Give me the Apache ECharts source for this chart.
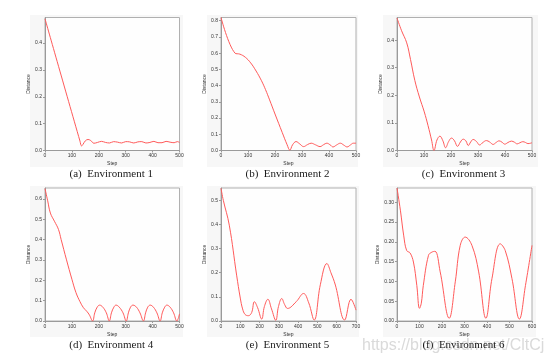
<!DOCTYPE html>
<html><head><meta charset="utf-8">
<script src="https://cdn.jsdelivr.net/npm/echarts@6/dist/echarts.min.js"></script>
<style>html,body{margin:0;padding:0;background:#fff}#c{width:554px;height:362px}</style>
</head><body><div id="c"></div><script>
// ---- data ----
const captions = ['(a)  Environment 1','(b)  Environment 2','(c)  Environment 3','(d)  Environment 4','(e)  Environment 5','(f)  Environment 6'];
const xTitle = 'Step';
const yTitle = 'Distance';
const watermark = 'https://blog.csdn.net/CltCj';
const xMax = [500, 500, 500, 500, 700, 600];
const yMax = [0.495, 0.82, 0.482, 0.653, 0.551, 0.336];
const yStep = [0.1, 0.1, 0.1, 0.1, 0.1, 0.05];
const yDecimals = [1, 1, 1, 1, 1, 2];

const env1 = [[0,0.49],[130,0.035],[136,0.017],[142,0.024],[150,0.036],[160,0.041],[170,0.037],[182,0.027],[195,0.030],[210,0.034],[225,0.030],[240,0.028],[255,0.033],[270,0.031],[285,0.028],[300,0.033],[315,0.032],[330,0.028],[345,0.032],[360,0.033],[375,0.028],[390,0.030],[405,0.034],[420,0.029],[435,0.029],[450,0.034],[465,0.031],[480,0.029],[492,0.033],[500,0.030]];
const env2 = [[0,0.82],[52,0.60],[70,0.594],[90,0.575],[110,0.54],[130,0.49],[150,0.43],[165,0.375],[180,0.312],[200,0.225],[227,0.11],[245,0.035],[255,0.002],[265,0.035],[278,0.055],[292,0.04],[306,0.024],[320,0.036],[334,0.045],[350,0.035],[367,0.024],[380,0.036],[392,0.045],[404,0.035],[415,0.022],[428,0.034],[442,0.045],[455,0.033],[467,0.022],[480,0.035],[490,0.045],[500,0.045]];
const env3 = [[0,0.48],[17,0.434],[36,0.39],[50,0.33],[66,0.254],[83,0.194],[101,0.14],[115,0.09],[128,0.038],[137,0.0],[148,0.038],[159,0.052],[170,0.035],[180,0.01],[191,0.032],[202,0.045],[213,0.035],[224,0.015],[235,0.031],[245,0.041],[255,0.035],[264,0.018],[273,0.031],[282,0.04],[294,0.033],[306,0.02],[318,0.029],[331,0.036],[343,0.031],[356,0.022],[367,0.029],[378,0.035],[389,0.03],[399,0.023],[411,0.029],[424,0.034],[435,0.03],[445,0.024],[455,0.028],[466,0.032],[476,0.029],[485,0.025],[500,0.028]];
const env4 = [[0,0.65],[10,0.59],[20,0.53],[35,0.49],[50,0.45],[60,0.40],[80,0.30],[100,0.205],[115,0.14],[130,0.095],[143,0.065],[155,0.048],[165,0.03],[177,0.0],[185,0.04],[194,0.068],[203,0.078],[215,0.068],[228,0.04],[239,0.0],[247,0.04],[256,0.068],[264,0.078],[276,0.068],[290,0.04],[302,0.0],[310,0.04],[318,0.068],[327,0.078],[340,0.068],[353,0.04],[366,0.0],[374,0.04],[382,0.068],[391,0.078],[403,0.068],[416,0.04],[428,0.0],[436,0.04],[445,0.068],[453,0.078],[465,0.068],[478,0.04],[490,0.0],[500,0.035]];
const env5 = [[0,0.55],[12,0.5],[43,0.397],[81,0.19],[100,0.095],[112,0.05],[125,0.027],[142,0.022],[159,0.035],[173,0.08],[190,0.055],[211,0.008],[225,0.06],[243,0.09],[262,0.05],[284,0.003],[298,0.06],[315,0.093],[330,0.068],[345,0.052],[390,0.08],[428,0.114],[455,0.075],[483,0.004],[515,0.15],[549,0.238],[570,0.2],[593,0.149],[641,0.004],[674,0.09],[700,0.045]];
const env6 = [[0,0.336],[15,0.28],[30,0.215],[43,0.178],[58,0.172],[73,0.149],[88,0.09],[100,0.032],[108,0.045],[117,0.09],[140,0.166],[155,0.174],[169,0.176],[192,0.124],[232,0.007],[259,0.099],[281,0.191],[303,0.212],[333,0.191],[363,0.124],[395,0.007],[422,0.107],[459,0.195],[481,0.178],[511,0.107],[544,0.005],[571,0.09],[600,0.191]];
const seriesData = [env1, env2, env3, env4, env5, env6];

// ---- layout ----
const grids = [
  {left:45, top:17.5, width:134.5, height:133},
  {left:221, top:17.5, width:135, height:133},
  {left:397, top:17.5, width:135, height:133},
  {left:45, top:188, width:134.5, height:133},
  {left:221, top:188, width:135, height:133},
  {left:397, top:188, width:135, height:133}
];
const panels = [
  {x:30, y:15, w:153, h:152}, {x:207, y:15, w:151, h:152}, {x:383, y:15, w:155, h:152},
  {x:30, y:186, w:153, h:151}, {x:207, y:186, w:152, h:151}, {x:383, y:186, w:153, h:151}
];
const capY = [174, 174, 174, 345, 345, 345];
const labelFont = {fontSize:5, color:'#333', fontFamily:'"Liberation Sans", Arial, sans-serif'};
const axisGray = '#9a9a9a';

const option = {
  animation:false,
  backgroundColor:'#ffffff',
  grid: grids.map(g => Object.assign({show:true, backgroundColor:'#fefefe', borderColor:'#b0b0b0', borderWidth:1}, g)),
  xAxis: grids.map((g,i) => ({
    type:'value', gridIndex:i, min:0, max:xMax[i], interval:100,
    name:xTitle, nameLocation:'middle', nameGap:11,
    nameTextStyle:Object.assign({}, labelFont),
    axisLine:{show:true, onZero:false, lineStyle:{color:axisGray, width:1}},
    axisTick:{show:true, length:2, lineStyle:{color:axisGray}},
    axisLabel:Object.assign({margin:3}, labelFont),
    splitLine:{show:false}
  })),
  yAxis: grids.map((g,i) => ({
    type:'value', gridIndex:i, min:0, max:yMax[i], interval:yStep[i],
    name:yTitle, nameLocation:'middle', nameGap: i===5 ? 14 : 12, nameRotate:90,
    nameTextStyle:Object.assign({}, labelFont),
    axisLine:{show:true, onZero:false, lineStyle:{color:axisGray, width:1}},
    axisTick:{show:true, length:2, lineStyle:{color:axisGray}},
    axisLabel:Object.assign({margin:3, showMaxLabel:false,
      formatter: v => v.toFixed(yDecimals[i])}, labelFont),
    splitLine:{show:false}
  })),
  series: seriesData.map((d,i) => ({
    type:'line', xAxisIndex:i, yAxisIndex:i, data:d, smooth:0.4,
    showSymbol:false, symbol:'none', clip:true,
    lineStyle:{color:'#ff5a5a', width:1}
  })),
  graphic: [
    ...panels.map(p => ({type:'rect', z:-10, silent:true, shape:{x:p.x, y:p.y, width:p.w, height:p.h}, style:{fill:'#f7f7f7'}})),
    {type:'text', z:1, silent:true, style:{text:watermark, x:362, y:345.5, font:'16px "Liberation Sans", Arial, sans-serif', fill:'#dadada', align:'left', verticalAlign:'middle', textAlign:'left', textVerticalAlign:'middle'}},
    ...grids.map((g,i) => ({type:'text', z:5, silent:true, style:{text:captions[i], x:g.left + g.width/2 - 1, y:capY[i], font:'11px "Liberation Serif", "Times New Roman", serif', fill:'#1a1a1a', align:'center', verticalAlign:'middle', textAlign:'center', textVerticalAlign:'middle'}}))
  ]
};
const chart = echarts.init(document.getElementById('c'), null, {renderer:'canvas'});
chart.setOption(option);
</script></body></html>
